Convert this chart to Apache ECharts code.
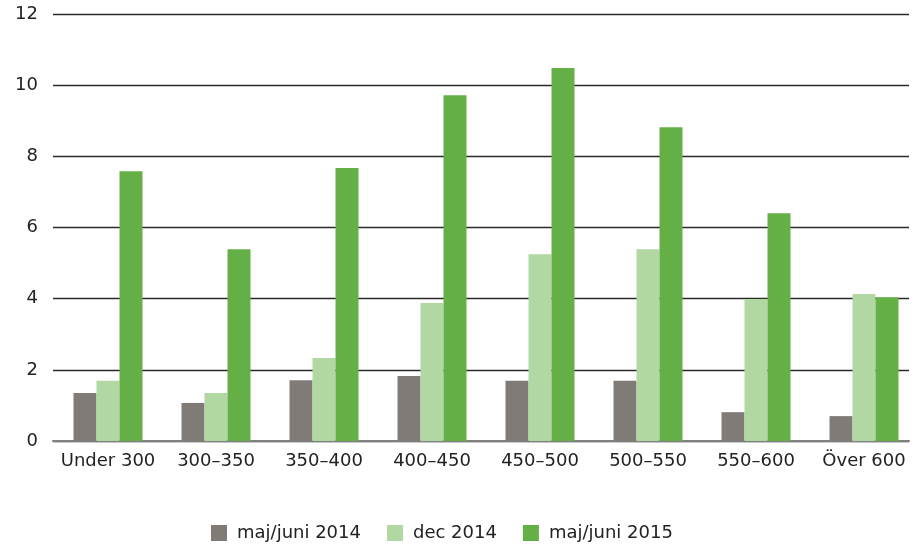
<!DOCTYPE html>
<html>
<head>
<meta charset="utf-8">
<script src="https://cdn.jsdelivr.net/npm/echarts@6/dist/echarts.min.js"></script>
<style>
    html, body { margin: 0; padding: 0; background: #fff; }
    #main { width: 919px; height: 544px; }
</style>
</head>
<body>
<div id="main"></div>
<script>
    var categories = ['Under 300', '300–350', '350–400', '400–450', '450–500', '500–550', '550–600', 'Över 600'];
    var seriesNames = ['maj/juni 2014', 'dec 2014', 'maj/juni 2015'];
    var majJuni2014 = [1.35, 1.07, 1.71, 1.83, 1.69, 1.69, 0.81, 0.70];
    var dec2014 = [1.69, 1.35, 2.33, 3.88, 5.25, 5.39, 3.99, 4.13];
    var majJuni2015 = [7.58, 5.39, 7.67, 9.72, 10.48, 8.82, 6.40, 4.04];
    var colors = ['#807b77', '#b1d8a3', '#64b046'];

    var font = 'DejaVu Sans';
    var chart = echarts.init(document.getElementById('main'));

    function bar(name, data, color) {
        return {
            name: name,
            type: 'bar',
            data: data,
            barWidth: 23,
            barGap: '0%',
            itemStyle: { color: color },
            emphasis: { disabled: true }
        };
    }

    var option = {
        animation: false,
        // grid 0 holds the bars, grid 1 the gridlines and value labels
        grid: [
            { left: 54, right: 1, top: 14, bottom: 103 },
            { left: 53, right: 10, top: 14, bottom: 103 }
        ],
        legend: {
            data: seriesNames,
            top: 524,
            left: 211,
            padding: 0,
            itemWidth: 16,
            itemHeight: 16,
            itemGap: 26,
            icon: 'rect',
            textStyle: { fontFamily: font, fontSize: 18, color: '#222', lineHeight: 16, padding: [0, 0, 0, 5] }
        },
        xAxis: [{
            type: 'category',
            gridIndex: 0,
            data: categories,
            axisTick: { show: false },
            axisLine: { show: false },
            axisLabel: { fontFamily: font, fontSize: 18, color: '#222', margin: 11, interval: 0 }
        }, {
            type: 'category',
            gridIndex: 1,
            data: categories,
            axisTick: { show: false },
            axisLabel: { show: false },
            axisLine: { lineStyle: { color: '#808080', width: 2 } }
        }],
        yAxis: [{
            type: 'value',
            gridIndex: 0,
            min: 0,
            max: 12,
            interval: 2,
            show: false
        }, {
            type: 'value',
            gridIndex: 1,
            min: 0,
            max: 12,
            interval: 2,
            axisLine: { show: false },
            axisTick: { show: false },
            axisLabel: { fontFamily: font, fontSize: 18, color: '#222', margin: 15 },
            splitLine: { lineStyle: { color: '#2a2a2a', width: 1.3 } }
        }],
        series: [
            bar(seriesNames[0], majJuni2014, colors[0]),
            bar(seriesNames[1], dec2014, colors[1]),
            bar(seriesNames[2], majJuni2015, colors[2])
        ]
    };
    chart.setOption(option);
</script>
</body>
</html>
